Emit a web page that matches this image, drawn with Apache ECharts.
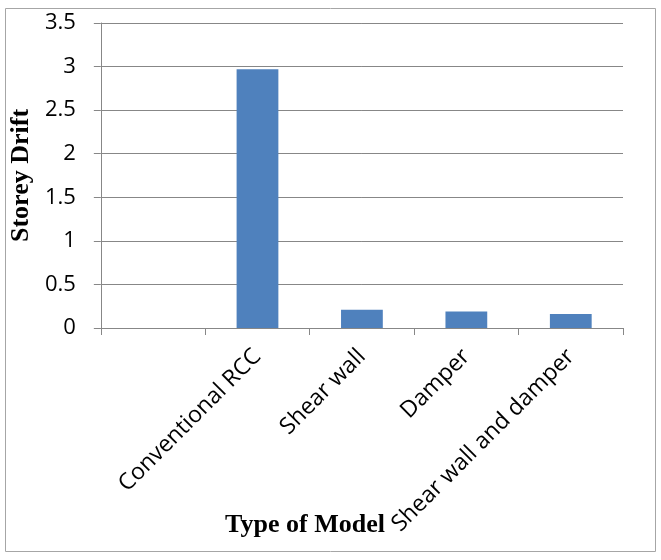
<!DOCTYPE html>
<html>
<head>
<meta charset="utf-8">
<script src="https://cdn.jsdelivr.net/npm/echarts@6/dist/echarts.min.js"></script>
<style>
  html, body { margin: 0; padding: 0; background: #fff; }
  #chart { width: 661px; height: 560px; }
</style>
</head>
<body>
<div id="chart"></div>
<script>
// Model types (first slot left blank on the category axis)
const categories = ['', 'Conventional RCC', 'Shear wall', 'Damper', 'Shear wall and damper'];
// Storey drift for each model type
const drift = [null, 2.97, 0.21, 0.19, 0.16];
// Value axis range and step
const yMin = 0, yMax = 3.5, yStep = 0.5;

const chart = echarts.init(document.getElementById('chart'), null, { renderer: 'canvas' });
const gray = '#878787';

chart.setOption({
  animation: false,
  backgroundColor: '#ffffff',
  grid: { left: 98, right: 38, top: 23, bottom: 232, containLabel: false },
  xAxis: {
    type: 'category',
    data: categories,
    axisLine: { show: true, lineStyle: { color: gray, width: 1 } },
    axisTick: { show: true, length: 7, lineStyle: { color: gray } },
    axisLabel: {
      interval: 0,
      rotate: 45,
      margin: 25,
      color: '#000',
      fontFamily: 'Open Sans',
      fontSize: 23
    }
  },
  yAxis: {
    type: 'value',
    min: yMin,
    max: yMax,
    interval: yStep,
    name: 'Storey Drift',
    nameLocation: 'middle',
    nameGap: 64,
    nameTextStyle: {
      fontFamily: 'Liberation Serif',
      fontWeight: 'bold',
      fontSize: 26,
      color: '#000'
    },
    axisLine: { show: true, lineStyle: { color: gray, width: 1 } },
    axisTick: { show: true, length: 7, lineStyle: { color: gray } },
    splitLine: { show: true, lineStyle: { color: gray, width: 1 } },
    axisLabel: {
      margin: 25,
      color: '#000',
      fontFamily: 'Open Sans',
      fontSize: 22
    }
  },
  series: [{
    type: 'bar',
    data: drift,
    barWidth: '40%',
    itemStyle: { color: '#4F81BD' }
  }],
  graphic: [
    {
      type: 'rect',
      silent: true,
      shape: { x: 5.5, y: 8.5, width: 650, height: 543 },
      style: { fill: null, stroke: '#a6a6a6', lineWidth: 1 }
    },
    {
      type: 'text',
      silent: true,
      x: 305,
      y: 525,
      style: {
        text: 'Type of Model',
        fontFamily: 'Liberation Serif',
        fontWeight: 'bold',
        fontSize: 26,
        fill: '#000',
        align: 'center',
        verticalAlign: 'middle'
      }
    }
  ]
});
</script>
</body>
</html>
